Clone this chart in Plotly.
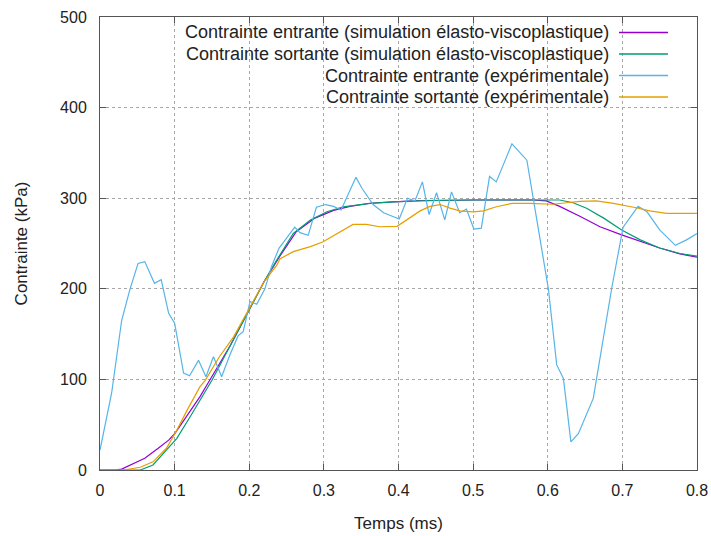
import plotly.graph_objects as go

# --- Data ---
t_sim_in = [0.0, 0.02, 0.029, 0.045, 0.060, 0.078, 0.092, 0.100, 0.116, 0.134, 0.147, 0.175, 0.200,
            0.220, 0.241, 0.263, 0.288, 0.313, 0.335, 0.362, 0.393, 0.430, 0.500, 0.580, 0.598,
            0.616, 0.643, 0.670, 0.699, 0.724, 0.750, 0.777, 0.800]
s_sim_in = [0, 0, 1, 7, 13, 24, 33, 40, 59, 81, 99, 138, 177,
            208, 236, 263, 278, 286.5, 291, 294.4, 296, 297.3, 298, 298, 297,
            291, 280, 268.5, 259.5, 252, 245, 238.5, 235]

t_sim_out = [0.0, 0.054, 0.071, 0.089, 0.103, 0.121, 0.136, 0.150, 0.175, 0.200, 0.220, 0.237, 0.259,
             0.282, 0.304, 0.326, 0.362, 0.393, 0.429, 0.500, 0.600, 0.616, 0.634, 0.652, 0.675,
             0.699, 0.724, 0.750, 0.777, 0.800]
s_sim_out = [0, 0, 5.5, 22, 35, 59, 79, 99, 138, 177, 208, 232, 261,
             276, 285, 290.5, 294.3, 296, 297.2, 298, 298, 298, 295, 289, 278,
             265, 254, 245, 239, 236]

t_exp_in = [0.0, 0.0156, 0.029, 0.040, 0.051, 0.060, 0.073, 0.082, 0.092, 0.100, 0.112, 0.120, 0.132,
            0.142, 0.152, 0.163, 0.174, 0.185, 0.192, 0.201, 0.210, 0.221, 0.230, 0.240, 0.250,
            0.261, 0.268, 0.279, 0.290, 0.302, 0.313, 0.323, 0.343, 0.351, 0.366, 0.380, 0.401,
            0.412, 0.422, 0.432, 0.441, 0.451, 0.462, 0.471, 0.482, 0.491, 0.501, 0.511, 0.522,
            0.531, 0.552, 0.572, 0.601, 0.612, 0.621, 0.631, 0.641, 0.661, 0.686, 0.701, 0.721,
            0.733, 0.750, 0.771, 0.786, 0.800]
s_exp_in = [22, 85, 165, 199, 228, 230, 206, 210, 173, 162, 107, 104, 121,
            103, 125, 103, 127, 148, 153, 186, 183, 200, 225, 245, 256,
            268, 262, 259, 290, 293, 291, 287, 323, 311, 293, 284, 277,
            300, 297, 318, 282, 306, 276, 307, 284, 288, 266, 267, 324,
            318, 360, 342, 199, 116, 101, 31, 40, 79, 202, 268, 291,
            285, 265, 248, 254, 261]

t_exp_out = [0.0, 0.031, 0.054, 0.071, 0.089, 0.103, 0.118, 0.134, 0.141, 0.160, 0.179, 0.200, 0.220,
             0.237, 0.241, 0.259, 0.282, 0.299, 0.322, 0.339, 0.357, 0.375, 0.398, 0.411, 0.429,
             0.442, 0.456, 0.469, 0.482, 0.500, 0.514, 0.531, 0.552, 0.576, 0.590, 0.607, 0.625,
             0.643, 0.665, 0.688, 0.715, 0.737, 0.759, 0.800]
s_exp_out = [0, 0, 3, 9, 24, 44, 68, 92, 99, 125, 147, 178, 208,
             226, 233, 241, 246.5, 252, 263, 271, 271, 268.5, 269, 276, 286,
             291, 293, 289, 286, 285, 286, 290.6, 294.3, 294.3, 293.6, 293.3, 295,
             296.5, 297, 294.3, 290, 286, 283.3, 283.3]

names = ["Contrainte entrante (simulation élasto-viscoplastique)",
         "Contrainte sortante (simulation élasto-viscoplastique)",
         "Contrainte entrante (expérimentale)",
         "Contrainte sortante (expérimentale)"]
colors = ["#9400D3", "#009E73", "#56B4E9", "#E69F00"]
x_ticks = [0, 0.1, 0.2, 0.3, 0.4, 0.5, 0.6, 0.7, 0.8]
x_ticktext = ["0", "0.1", "0.2", "0.3", "0.4", "0.5", "0.6", "0.7", "0.8"]
y_ticks = [0, 100, 200, 300, 400, 500]

series = [(t_sim_in, s_sim_in), (t_sim_out, s_sim_out), (t_exp_in, s_exp_in), (t_exp_out, s_exp_out)]

FONT = "Liberation Sans, Arial, sans-serif"
fig = go.Figure()
for (xs, ys), name, col in zip(series, names, colors):
    fig.add_trace(go.Scatter(x=xs, y=ys, mode="lines", name=name,
                             line=dict(color=col, width=1.2), showlegend=False))

W, H = 711, 536
L, R, T, B = 100, 14, 17, 66
pw, ph = W - L - R, H - T - B

def px2paper(px, py):
    return (px - L) / pw, (H - B - py) / ph

# opaque key box (covers the grid like gnuplot's opaque key)
x0, y0 = px2paper(158, 106)
fig.add_shape(type="rect", xref="paper", yref="paper", x0=x0, x1=1, y0=y0, y1=1,
              fillcolor="white", line=dict(width=0), layer="between")

row_y = [32.5, 54, 75.5, 97]
for name, col, ry in zip(names, colors, row_y):
    tx, ty = px2paper(611, ry)
    fig.add_annotation(x=tx, y=ty, xref="paper", yref="paper", text=name, showarrow=False,
                       xanchor="right", yanchor="middle",
                       font=dict(size=18, color="#222222", family=FONT))
    lx0, _ = px2paper(619, ry)
    lx1, _ = px2paper(668, ry)
    fig.add_shape(type="line", xref="paper", yref="paper", x0=lx0, x1=lx1, y0=ty, y1=ty,
                  line=dict(color=col, width=1.3))

axis_common = dict(showgrid=True, gridcolor="#a8a8a8", gridwidth=1, griddash="dot",
                   showline=True, linecolor="#555555", linewidth=1, mirror="ticks",
                   ticks="inside", ticklen=6, tickcolor="#555555", zeroline=False,
                   automargin=False,
                   tickfont=dict(size=16, color="#222222", family=FONT))

fig.update_layout(
    width=W, height=H, margin=dict(l=L, r=R, t=T, b=B, autoexpand=False),
    paper_bgcolor="white", plot_bgcolor="white",
    font=dict(family=FONT, size=16, color="#222222"),
    xaxis=dict(range=[0, 0.8], tickvals=x_ticks, ticktext=x_ticktext, ticklabelstandoff=6,
               title=dict(text="Temps (ms)", font=dict(size=17), standoff=18), **axis_common),
    yaxis=dict(range=[0, 500], tickvals=y_ticks, ticklabelstandoff=9,
               title=dict(text="Contrainte (kPa)", font=dict(size=17), standoff=28), **axis_common),
)
fig.write_html("out.html", config={"displayModeBar": False},
               post_script="document.body.style.margin='0';document.body.style.overflow='hidden';")
